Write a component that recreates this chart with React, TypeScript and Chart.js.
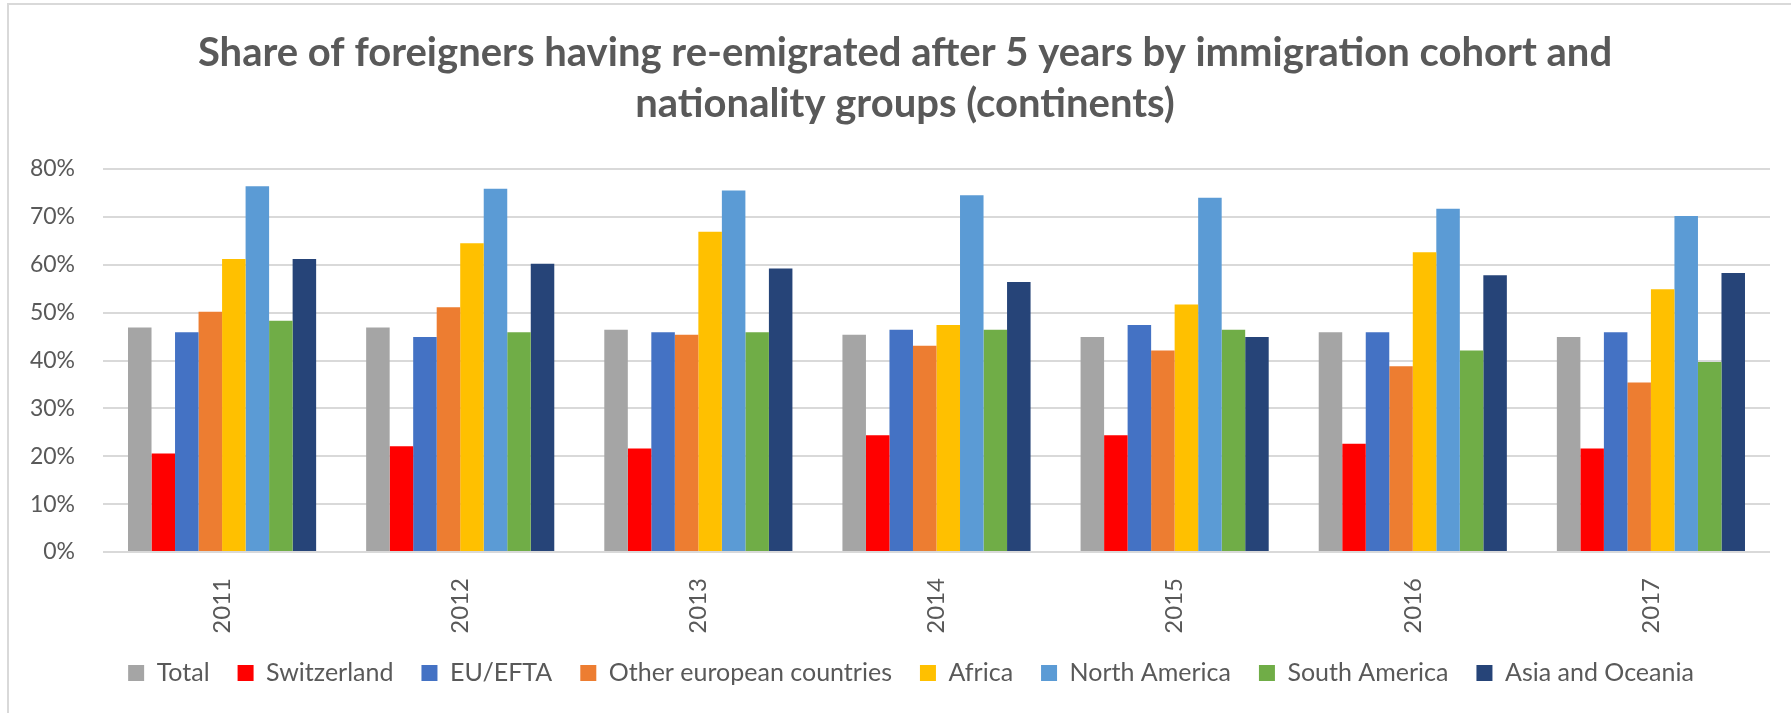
import React, { useEffect, useRef } from "react";
import { Chart, registerables } from "chart.js";

Chart.register(...registerables);

const years = ["2011", "2012", "2013", "2014", "2015", "2016", "2017"];
const yTicks = [0, 10, 20, 30, 40, 50, 60, 70, 80];

const total = [46.9, 46.9, 46.4, 45.4, 44.9, 45.9, 44.9];
const switzerland = [20.6, 22.1, 21.6, 24.4, 24.4, 22.6, 21.6];
const euEfta = [45.9, 44.9, 45.9, 46.4, 47.4, 45.9, 45.9];
const otherEuropean = [50.2, 51.1, 45.4, 43.1, 42.1, 38.8, 35.4];
const africa = [61.2, 64.5, 66.9, 47.4, 51.7, 62.6, 54.9];
const northAmerica = [76.4, 75.9, 75.5, 74.5, 74.0, 71.7, 70.2];
const southAmerica = [48.3, 45.9, 45.9, 46.4, 46.4, 42.1, 39.7];
const asiaOceania = [61.2, 60.2, 59.2, 56.4, 44.9, 57.8, 58.3];

const seriesNames = [
  "Total",
  "Switzerland",
  "EU/EFTA",
  "Other european countries",
  "Africa",
  "North America",
  "South America",
  "Asia and Oceania",
];
const seriesValues = [total, switzerland, euEfta, otherEuropean, africa, northAmerica, southAmerica, asiaOceania];
const seriesColors = ["#A5A5A5", "#FF0000", "#4472C4", "#ED7D31", "#FFC000", "#5B9BD5", "#70AD47", "#264478"];

const titleLines = [
  "Share of foreigners having re-emigrated after 5 years by immigration cohort and",
  "nationality groups (continents)",
];

const W = 1791;
const H = 713;

const framePlugin = {
  id: "frame",
  afterLayout(chart: any) {
    if (chart.legend) {
      chart.legend.left += 26;
      chart.legend.right += 26;
    }
    if (chart.titleBlock) {
      chart.titleBlock.left += 20;
      chart.titleBlock.right += 20;
    }
  },
  beforeDraw(chart: any) {
    const ctx = chart.ctx;
    ctx.save();
    ctx.fillStyle = "#ffffff";
    ctx.fillRect(0, 0, chart.width, chart.height);
    ctx.fillStyle = "#d9d9d9";
    ctx.fillRect(7, 3, 2, chart.height - 3);
    ctx.fillRect(7, 3, chart.width - 7, 2);
    ctx.restore();
  },
};

export default function App() {
  const ref = useRef<HTMLCanvasElement>(null);

  useEffect(() => {
    if (!ref.current) return;
    const chart = new Chart(ref.current, {
      type: "bar",
      data: {
        labels: years,
        datasets: seriesNames.map((name, i) => ({
          label: name,
          data: seriesValues[i],
          backgroundColor: seriesColors[i],
          borderWidth: 0,
          categoryPercentage: 0.79,
          barPercentage: 1.0,
        })),
      },
      options: {
        responsive: false,
        animation: false,
        devicePixelRatio: 1,
        layout: { padding: { left: 0, right: 21, top: 0, bottom: 17.5 } },
        plugins: {
          title: {
            display: true,
            text: titleLines,
            color: "#595959",
            font: { family: "Lato", size: 40, weight: "bold", lineHeight: 51 / 40 },
            padding: { top: 28, bottom: 39 },
          },
          legend: {
            position: "bottom",
            labels: {
              color: "#595959",
              font: { family: "Lato", size: 25 },
              boxWidth: 16,
              boxHeight: 16,
              padding: 28,
            },
          },
          tooltip: { enabled: false },
        },
        scales: {
          x: {
            grid: { display: false },
            border: { display: false },
            ticks: {
              color: "#595959",
              font: { family: "Lato", size: 24 },
              maxRotation: 90,
              minRotation: 90,
              padding: 18,
            },
            afterFit(scale: any) {
              scale.height = 80.5;
            },
          },
          y: {
            min: 0,
            max: 80,
            afterBuildTicks(scale: any) {
              scale.ticks = yTicks.map((v) => ({ value: v }));
            },
            grid: { color: "#d9d9d9", lineWidth: 2, drawTicks: false },
            border: { display: false },
            ticks: {
              color: "#595959",
              font: { family: "Lato", size: 23 },
              padding: 28,
              callback: (v: any) => v + "%",
            },
            afterFit(scale: any) {
              scale.width = 103;
            },
          },
        },
      },
      plugins: [framePlugin],
    });
    return () => chart.destroy();
  }, []);

  return (
    <div style={{ position: "absolute", left: 0, top: 0, width: W, height: H }}>
      <canvas ref={ref} width={W} height={H} style={{ width: W, height: H, display: "block" }} />
    </div>
  );
}
